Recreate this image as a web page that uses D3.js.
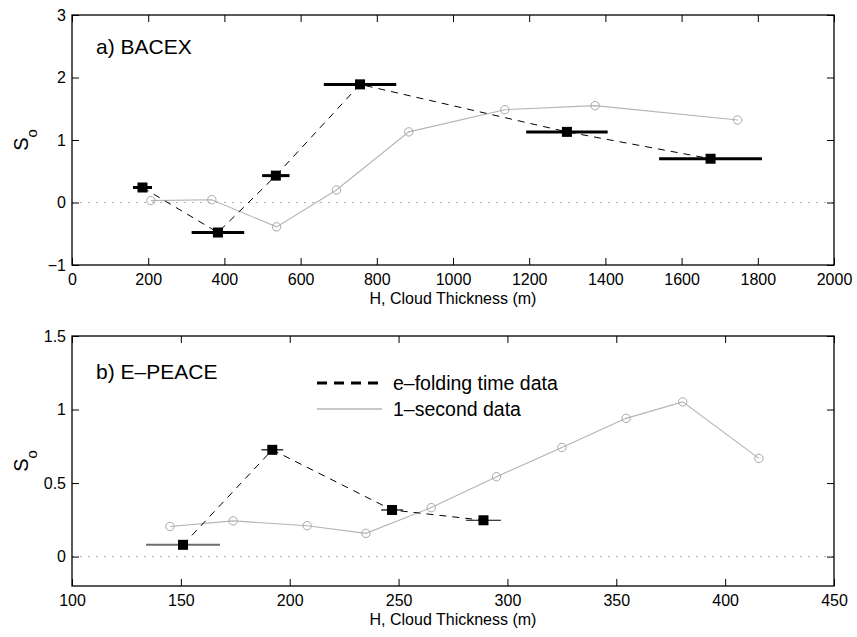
<!DOCTYPE html>
<html>
<head>
<meta charset="utf-8">
<script src="https://cdn.jsdelivr.net/npm/d3@7"></script>
<style>
  body { margin: 0; background: #fff; }
  svg { display: block; font-family: "Liberation Sans", Arial, Helvetica, sans-serif; }
</style>
</head>
<body>
<svg id="chart" width="857" height="637"></svg>
<script>
// ---- Panel a) BACEX ----
const bacexH     = [185, 383, 535, 756, 1299, 1676];
const bacexS     = [0.24, -0.48, 0.43, 1.89, 1.13, 0.70];
const bacexErr   = [25, 69, 36, 95, 107, 135];
const bacex1sH   = [207, 367, 537, 694, 884, 1136, 1373, 1747];
const bacex1sS   = [0.03, 0.045, -0.39, 0.20, 1.13, 1.485, 1.55, 1.32];
const bacexXTicks = [0, 200, 400, 600, 800, 1000, 1200, 1400, 1600, 1800, 2000];
const bacexYTicks = [-1, 0, 1, 2, 3];

// ---- Panel b) E-PEACE ----
const epeaceH    = [151, 192, 247, 289];
const epeaceS    = [0.08, 0.726, 0.317, 0.247];
const epeaceErr  = [17, 5, 5, 8];
const epeace1sH  = [145, 174, 208, 235, 265, 295, 325, 354.5, 380.5, 415.5];
const epeace1sS  = [0.205, 0.243, 0.21, 0.158, 0.333, 0.543, 0.742, 0.94, 1.052, 0.668];
const epeaceXTicks = [100, 150, 200, 250, 300, 350, 400, 450];
const epeaceYTicks = [0, 0.5, 1, 1.5];

const legendLabels = ["e\u2013folding time data", "1\u2013second data"];

const svg = d3.select("#chart");

function panel(cfg) {
  const W = 762, H = 250;
  const g = svg.append("g").attr("transform", `translate(72,${cfg.top})`);
  const x = d3.scaleLinear().domain(cfg.xDomain).range([0, W]);
  const y = d3.scaleLinear().domain(cfg.yDomain).range([H, 0]);

  // zero dotted line
  g.append("line").attr("x1", 0).attr("x2", W).attr("y1", y(0)).attr("y2", y(0))
    .attr("stroke", "#b0b0b0").attr("stroke-width", 1).attr("stroke-dasharray", "2,6");

  // axes
  const fmt = d => String(d).replace("-", "\u2212");
  const ax = [
    g.append("g").attr("transform", `translate(0,${H})`)
      .call(d3.axisBottom(x).tickValues(cfg.xTicks).tickSize(-7).tickPadding(9).tickFormat(fmt)),
    g.append("g")
      .call(d3.axisTop(x).tickValues(cfg.xTicks).tickSize(-7).tickFormat("")),
    g.append("g")
      .call(d3.axisLeft(y).tickValues(cfg.yTicks).tickSize(-7).tickPadding(6).tickFormat(fmt)),
    g.append("g").attr("transform", `translate(${W},0)`)
      .call(d3.axisRight(y).tickValues(cfg.yTicks).tickSize(-7).tickFormat(""))
  ];
  ax.forEach(a => {
    a.select(".domain").remove();
    a.selectAll("line").attr("stroke", "#000").attr("stroke-width", 1);
    a.selectAll("text").attr("font-size", 16).attr("fill", "#000")
      .attr("font-family", "'Liberation Sans', Arial, sans-serif");
  });
  g.append("rect").attr("x", 0).attr("y", 0).attr("width", W).attr("height", H)
    .attr("fill", "none").attr("stroke", "#000").attr("stroke-width", 1.3);

  // 1-second data (gray line + open circles)
  const pts1 = cfg.h1.map((h, i) => [h, cfg.s1[i]]);
  g.append("path").datum(pts1)
    .attr("d", d3.line().x(d => x(d[0])).y(d => y(d[1])))
    .attr("fill", "none").attr("stroke", "#b4b4b4").attr("stroke-width", 1.1);
  g.selectAll("circle.c").data(pts1).join("circle").attr("class", "c")
    .attr("cx", d => x(d[0])).attr("cy", d => y(d[1])).attr("r", 4.2)
    .attr("fill", "none").attr("stroke", "#a8a8a8").attr("stroke-width", 1);

  // e-folding data (dashed line + error bars + squares)
  const pts = cfg.h.map((h, i) => [h, cfg.s[i], cfg.err[i]]);
  g.append("path").datum(pts)
    .attr("d", d3.line().x(d => x(d[0])).y(d => y(d[1])))
    .attr("fill", "none").attr("stroke", "#000").attr("stroke-width", 1)
    .attr("stroke-dasharray", "7,6");
  g.selectAll("line.err").data(pts).join("line").attr("class", "err")
    .attr("x1", d => x(d[0] - d[2])).attr("x2", d => x(d[0] + d[2]))
    .attr("y1", d => y(d[1])).attr("y2", d => y(d[1]))
    .attr("stroke", (d, i) => cfg.errColor(i)).attr("stroke-width", (d, i) => cfg.errWidth(i));
  g.selectAll("rect.sq").data(pts).join("rect").attr("class", "sq")
    .attr("x", d => x(d[0]) - 5).attr("y", d => y(d[1]) - 5)
    .attr("width", 10).attr("height", 10).attr("fill", "#000");

  // panel label
  g.append("text").attr("x", 24).attr("y", cfg.labelY).attr("font-size", 21)
    .attr("fill", "#000").text(cfg.label);

  // x axis title
  g.append("text").attr("x", W / 2).attr("y", H + 39).attr("text-anchor", "middle")
    .attr("font-size", 16).attr("fill", "#000").text("H, Cloud Thickness (m)");

  // y axis title S_o
  const yt = svg.append("text")
    .attr("transform", `translate(28,${cfg.top + H / 2}) rotate(-90)`)
    .attr("text-anchor", "middle").attr("font-size", 20).attr("fill", "#000");
  yt.append("tspan").text("S");
  yt.append("tspan").attr("font-size", 15).attr("dy", 9).text("o");

  return { g, x, y };
}

panel({
  top: 15, xDomain: [0, 2000], yDomain: [-1, 3],
  xTicks: bacexXTicks, yTicks: bacexYTicks,
  h: bacexH, s: bacexS, err: bacexErr, h1: bacex1sH, s1: bacex1sS,
  errColor: () => "#000", errWidth: () => 3,
  label: "a) BACEX", labelY: 39
});

const pb = panel({
  top: 336, xDomain: [100, 450], yDomain: [-0.2, 1.5],
  xTicks: epeaceXTicks, yTicks: epeaceYTicks,
  h: epeaceH, s: epeaceS, err: epeaceErr, h1: epeace1sH, s1: epeace1sS,
  errColor: i => i === 0 ? "#6e6e6e" : "#000", errWidth: i => i === 0 ? 2 : 1.2,
  label: "b) E\u2013PEACE", labelY: 43
});

// legend (panel b)
const lg = pb.g.append("g").attr("transform", "translate(245,0)");
lg.append("line").attr("x1", 0).attr("x2", 65).attr("y1", 47).attr("y2", 47)
  .attr("stroke", "#000").attr("stroke-width", 3).attr("stroke-dasharray", "10,7");
lg.append("line").attr("x1", 0).attr("x2", 65).attr("y1", 73).attr("y2", 73)
  .attr("stroke", "#b4b4b4").attr("stroke-width", 1.5);
lg.selectAll("text").data(legendLabels).join("text")
  .attr("x", 76).attr("y", (d, i) => 47 + i * 26).attr("dy", "0.35em")
  .attr("font-size", 19.5).attr("fill", "#000").text(d => d);
</script>
</body>
</html>
